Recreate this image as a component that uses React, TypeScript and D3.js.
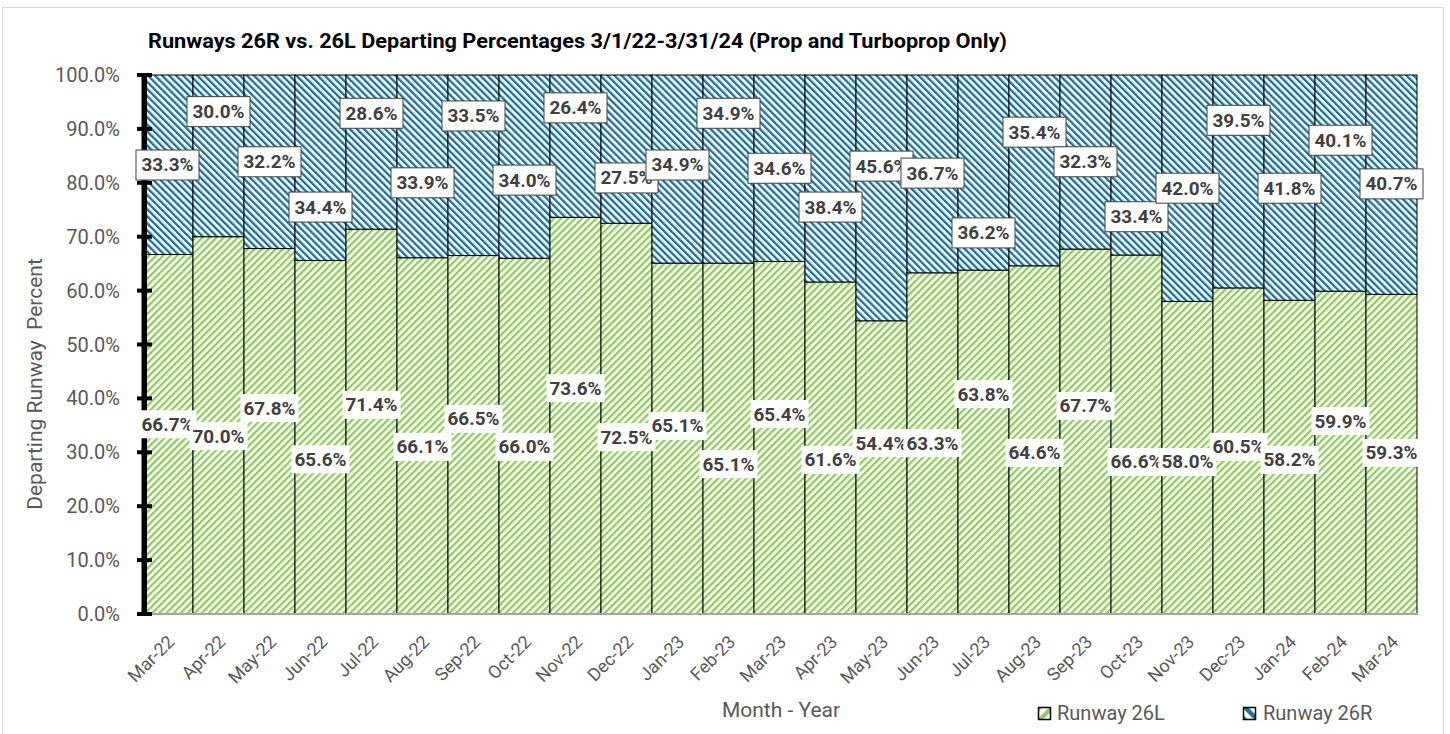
import React from "react";
import * as d3 from "d3";

const months = [
  "Mar-22", "Apr-22", "May-22", "Jun-22", "Jul-22", "Aug-22", "Sep-22", "Oct-22", "Nov-22", "Dec-22",
  "Jan-23", "Feb-23", "Mar-23", "Apr-23", "May-23", "Jun-23", "Jul-23", "Aug-23", "Sep-23", "Oct-23",
  "Nov-23", "Dec-23", "Jan-24", "Feb-24", "Mar-24",
];
const runway26L = [
  66.7, 70.0, 67.8, 65.6, 71.4, 66.1, 66.5, 66.0, 73.6, 72.5,
  65.1, 65.1, 65.4, 61.6, 54.4, 63.3, 63.8, 64.6, 67.7, 66.6,
  58.0, 60.5, 58.2, 59.9, 59.3,
];
const runway26R = [
  33.3, 30.0, 32.2, 34.4, 28.6, 33.9, 33.5, 34.0, 26.4, 27.5,
  34.9, 34.9, 34.6, 38.4, 45.6, 36.7, 36.2, 35.4, 32.3, 33.4,
  42.0, 39.5, 41.8, 40.1, 40.7,
];
// manually placed data-label centres, in axis units (percent)
const label26LAt = [
  35.2, 33.0, 38.2, 28.7, 38.8, 31.0, 36.2, 31.0, 41.9, 32.8,
  34.9, 27.8, 37.1, 28.6, 31.7, 31.7, 40.8, 29.9, 38.6, 28.2,
  28.2, 31.0, 28.6, 35.8, 29.9,
];
const label26RAt = [
  83.3, 93.2, 83.9, 75.5, 92.9, 80.0, 92.4, 80.5, 93.9, 80.9,
  83.3, 92.9, 82.7, 75.5, 83.1, 81.8, 70.7, 89.4, 83.9, 73.7,
  79.0, 91.6, 79.0, 87.9, 79.8,
];
const yTicks = [0, 10, 20, 30, 40, 50, 60, 70, 80, 90, 100];

const GREEN = "#92cc5f";
const BLUE = "#1c7399";
const FONT = "Roboto, 'Noto Sans', sans-serif";

export default function App() {
  const W = 1450;
  const H = 734;
  const x = d3.scaleBand<string>().domain(months).range([142, 1417]).padding(0);
  const y = d3.scaleLinear().domain([0, 100]).range([614, 75]);
  const bw = x.bandwidth();
  const fmt = (v: number) => `${v.toFixed(1)}%`;
  const P = 5.0;

  return (
    <svg
      width={W}
      height={H}
      style={{ position: "absolute", left: 0, top: 0, background: "#fff" }}
      fontFamily={FONT}
    >
      <defs>
        <pattern id="pGreen" patternUnits="userSpaceOnUse" width={P} height={P} patternTransform="rotate(45)">
          <rect width={P} height={P} fill="#fff" />
          <rect width={P * 0.48} height={P} fill={GREEN} />
        </pattern>
        <pattern id="pBlue" patternUnits="userSpaceOnUse" width={P} height={P} patternTransform="rotate(-45)">
          <rect width={P} height={P} fill="#fff" />
          <rect width={P * 0.48} height={P} fill={BLUE} />
        </pattern>
        <pattern id="pGreenL" patternUnits="userSpaceOnUse" width={9} height={9} patternTransform="rotate(45)">
          <rect width={9} height={9} fill="#fff" />
          <rect width={4.5} height={9} fill={GREEN} />
        </pattern>
        <pattern id="pBlueL" patternUnits="userSpaceOnUse" width={9} height={9} patternTransform="rotate(-45)">
          <rect width={9} height={9} fill="#fff" />
          <rect width={4.5} height={9} fill={BLUE} />
        </pattern>
      </defs>

      <rect x={0} y={0} width={W} height={H} fill="#fff" />
      <rect x={2.5} y={7.5} width={1441} height={740} fill="none" stroke="#d9d9d9" strokeWidth={1} />

      {/* title */}
      <text x={148} y={48} fontSize={20} fontWeight={700} fill="#000" textLength={859} lengthAdjust="spacingAndGlyphs">
        Runways 26R vs. 26L Departing Percentages 3/1/22-3/31/24 (Prop and Turboprop Only)
      </text>

      {/* bars */}
      {months.map((m, i) => (
        <g key={m}>
          <rect x={x(m)} y={y(runway26L[i])} width={bw} height={y(0) - y(runway26L[i])} fill="url(#pGreen)" stroke="#000" strokeWidth={1} />
          <rect
            x={x(m)}
            y={y(runway26L[i] + runway26R[i])}
            width={bw}
            height={y(runway26L[i]) - y(runway26L[i] + runway26R[i])}
            fill="url(#pBlue)"
            stroke="#000"
            strokeWidth={1}
          />
        </g>
      ))}

      {/* x axis */}
      <line x1={142} x2={1418} y1={y(0)} y2={y(0)} stroke="#a6a6a6" strokeWidth={2} />

      {/* y axis */}
      <line x1={144.5} x2={144.5} y1={y(100) - 2} y2={y(0) + 2} stroke="#000" strokeWidth={5} />
      {yTicks.map((t) => (
        <g key={t}>
          <line x1={137} x2={152} y1={y(t)} y2={y(t)} stroke="#000" strokeWidth={4} />
          <text x={120} y={y(t)} dy="0.35em" textAnchor="end" fontSize={20} fill="#595959">
            {`${t.toFixed(1)}%`}
          </text>
        </g>
      ))}

      {/* x tick labels */}
      {months.map((m) => {
        const cx = (x(m) as number) + bw / 2;
        return (
          <text key={m} transform={`translate(${cx + 8},${y(0) + 29}) rotate(-45)`} textAnchor="end" fontSize={18} fill="#595959">
            {m}
          </text>
        );
      })}

      {/* axis titles */}
      <text transform={`translate(42,${384}) rotate(-90)`} textAnchor="middle" fontSize={21} fill="#595959" xmlSpace="preserve">
        Departing Runway  Percent
      </text>
      <text x={781} y={717} textAnchor="middle" fontSize={21} fill="#595959">
        Month - Year
      </text>

      {/* data labels 26L */}
      {months.map((m, i) => {
        const cx = (x(m) as number) + bw / 2;
        const cy = y(label26LAt[i]);
        return (
          <g key={`gl${m}`}>
            <rect x={cx - 29} y={cy - 14} width={58} height={28} fill="#fff" />
            <text x={cx} y={cy} dy="0.36em" textAnchor="middle" fontSize={18} fontWeight={700} fill="#404040" textLength={52} lengthAdjust="spacingAndGlyphs">
              {fmt(runway26L[i])}
            </text>
          </g>
        );
      })}
      {/* data labels 26R */}
      {months.map((m, i) => {
        const cx = (x(m) as number) + bw / 2;
        const cy = y(label26RAt[i]);
        return (
          <g key={`bl${m}`}>
            <rect x={cx - 31.5} y={cy - 15} width={63} height={30} fill="#fff" stroke="#404040" strokeWidth={1} />
            <text x={cx} y={cy} dy="0.36em" textAnchor="middle" fontSize={18} fontWeight={700} fill="#404040" textLength={52} lengthAdjust="spacingAndGlyphs">
              {fmt(runway26R[i])}
            </text>
          </g>
        );
      })}

      {/* legend */}
      <rect x={1038.5} y={707.5} width={12} height={12} fill="url(#pGreenL)" stroke="#000" strokeWidth={1.5} />
      <text x={1057} y={720} fontSize={20} fill="#595959">Runway 26L</text>
      <rect x={1243.5} y={707.5} width={12} height={12} fill="url(#pBlueL)" stroke="#000" strokeWidth={1.5} />
      <text x={1263} y={720} fontSize={20} fill="#595959">Runway 26R</text>
    </svg>
  );
}
